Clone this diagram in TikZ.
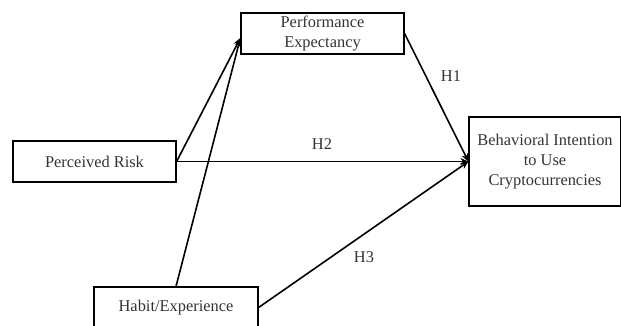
\documentclass[tikz,border=0pt]{standalone}
\usepackage{fontspec}
\setmainfont{Liberation Serif}
\usetikzlibrary{arrows.meta}
\begin{document}
\begin{tikzpicture}[x=1pt,y=-1pt,
  box/.style={draw=black, line width=1.2pt, inner sep=0pt, align=center,
    font=\fontsize{16.4}{20}\selectfont, text=black!80},
  arr/.style={line width=1.6pt, -{Stealth[length=8pt,width=7pt]}},
  lbl/.style={font=\fontsize{16.4}{20}\selectfont, text=black!80, inner sep=0pt}]
\useasboundingbox (0,0) rectangle (621,325);
\clip (0,0) rectangle (621,325);
\node[box, minimum width=163pt, minimum height=41pt] (pe) at (322.5,33.5) {Performance\\Expectancy};
\node[box, minimum width=163pt, minimum height=41pt] (pr) at (94.5,161.5) {Perceived Risk};
\node[box, minimum width=164pt, minimum height=41pt] (hab) at (176,307.5) {Habit/Experience};
\node[box, minimum width=152pt, minimum height=89pt] (bi) at (545,161.5) {Behavioral Intention\\to Use\\Cryptocurrencies};
\coordinate (peIn) at ([yshift=-4.5pt]pe.west);
\draw[arr] (pr.east) -- (peIn);
\draw[arr] (hab.north) -- (peIn);
\draw[arr] (pe.east) -- (bi.west);
\draw[arr] (pr.east) -- (bi.west);
\draw[arr] (hab.east) -- (bi.west);
\node[lbl] (h1) at (451,76) {H1};
\node[lbl] (h2) at (322,144) {H2};
\node[lbl] (h3) at (364,257) {H3};
\end{tikzpicture}
\end{document}
